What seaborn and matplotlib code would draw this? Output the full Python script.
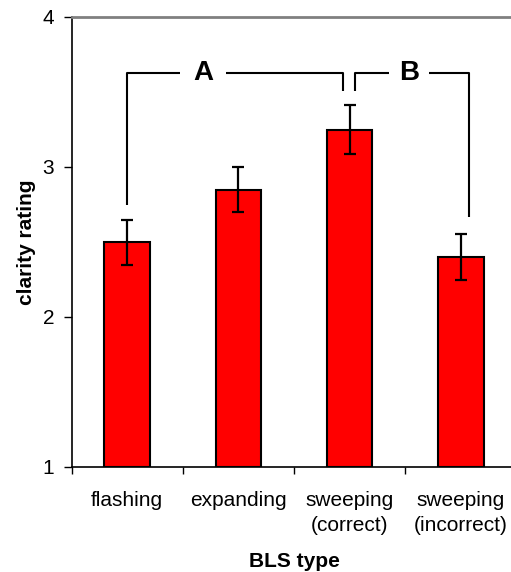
import matplotlib
matplotlib.use("Agg")
import matplotlib.pyplot as plt
import seaborn as sns
import pandas as pd

categories = ["flashing", "expanding", "sweeping\n(correct)", "sweeping\n(incorrect)"]
ratings = [2.50, 2.85, 3.25, 2.40]
errors = [0.15, 0.15, 0.165, 0.155]
yticks = [1, 2, 3, 4]

# significance brackets (data coords)
bracket_a_x = [0.0, 1.94]
bracket_a_y_ends = [2.75, 3.51]
bracket_a_gap = [0.475, 0.89]
bracket_b_x = [2.05, 3.07]
bracket_b_y_ends = [3.51, 2.67]
bracket_b_gap = [2.355, 2.71]
bracket_top = 3.63
bracket_labels = ["A", "B"]

sns.set_theme(style="white")
plt.rcParams["font.family"] = ["Liberation Sans", "DejaVu Sans"]
plt.rcParams.update({"text.color": "black", "axes.labelcolor": "black",
                     "xtick.color": "black", "ytick.color": "black"})

df = pd.DataFrame({"type": categories, "rating": ratings})

fig = plt.figure(figsize=(5.11, 5.72), dpi=100)
ax = fig.add_axes([71.5 / 511, 105 / 572, 445 / 511, 450 / 572])

sns.barplot(data=df, x="type", y="rating", color="#FF0000", width=0.41,
            edgecolor="black", linewidth=1.5, saturation=1, errorbar=None, ax=ax)
for p in ax.patches:
    p.set_facecolor("#FF0000")
    p.set_y(1)
    p.set_height(p.get_height() - 1)

ax.errorbar(range(len(categories)), ratings, yerr=errors, fmt="none",
            ecolor="black", elinewidth=1.6, capsize=4.5, capthick=1.6, zorder=5)

ax.set_ylim(1, 4)
ax.set_xlim(-0.5, len(categories) - 0.5)
ax.set_yticks(yticks)
ax.set_yticklabels([str(v) for v in yticks])
ax.set_xticks([i - 0.5 for i in range(len(categories) + 1)], minor=False)
ax.set_xticklabels([])
ax.set_xticks(range(len(categories)), minor=True)
ax.set_xticklabels(categories, minor=True, fontsize=15, linespacing=1.45)
ax.tick_params(axis="x", which="minor", length=0, pad=17)
ax.tick_params(axis="x", which="major", length=5, width=1, color="black",
               direction="out", bottom=True)
ax.tick_params(axis="y", length=5.5, width=1, color="black", direction="out",
               left=True, labelsize=15, pad=7)

for s in ["left", "bottom"]:
    ax.spines[s].set_color("black")
    ax.spines[s].set_linewidth(1.2)
ax.spines["top"].set_color("#808080")
ax.spines["top"].set_linewidth(2)
ax.spines["right"].set_visible(False)

ax.set_xlabel("BLS type", fontsize=15, fontweight="bold", labelpad=12)
ax.set_ylabel("clarity rating", fontsize=15, fontweight="bold", labelpad=5)

lk = dict(color="black", lw=1.5, solid_capstyle="butt", clip_on=False)
# bracket A
ax.plot([bracket_a_x[0], bracket_a_x[0], bracket_a_gap[0]],
        [bracket_a_y_ends[0], bracket_top, bracket_top], **lk)
ax.plot([bracket_a_gap[1], bracket_a_x[1], bracket_a_x[1]],
        [bracket_top, bracket_top, bracket_a_y_ends[1]], **lk)
# bracket B
ax.plot([bracket_b_x[0], bracket_b_x[0], bracket_b_gap[0]],
        [bracket_b_y_ends[0], bracket_top, bracket_top], **lk)
ax.plot([bracket_b_gap[1], bracket_b_x[1], bracket_b_x[1]],
        [bracket_top, bracket_top, bracket_b_y_ends[1]], **lk)

ax.text(sum(bracket_a_gap) / 2, bracket_top, bracket_labels[0], ha="center",
        va="center", fontsize=20, fontweight="bold")
ax.text(sum(bracket_b_gap) / 2, bracket_top, bracket_labels[1], ha="center",
        va="center", fontsize=20, fontweight="bold")

fig.savefig("out.png", dpi=100)
